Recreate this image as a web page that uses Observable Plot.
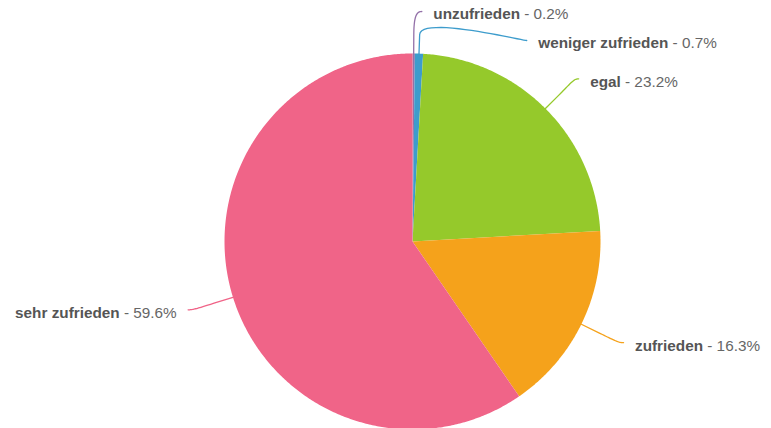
<!DOCTYPE html>
<html><head><meta charset="utf-8">
<script src="https://cdn.jsdelivr.net/npm/d3@7"></script>
<script src="https://cdn.jsdelivr.net/npm/@observablehq/plot@0.6"></script>
<style>html,body{margin:0;padding:0;background:#fff}</style>
</head><body><div id="chart"></div>
<script>
// ---- data ----
const categories = ["unzufrieden", "weniger zufrieden", "egal", "zufrieden", "sehr zufrieden"];
const shares = [0.2, 0.7, 23.2, 16.3, 59.6];
const colors = ["#9370a8", "#3d9ccc", "#95c92b", "#f5a21b", "#f06488"];

// ---- layout ----
const W = 771, H = 428, CX = 412, CY = 241, R = 188;
const px = 1 / R;                 // one pixel in data units
const FONT = "'Liberation Sans', Arial, Helvetica, sans-serif";
const FS = 15.3;
const RY = 230 * px;              // label ellipse, vertical radius
const RX = 235 * px;              // label ellipse, horizontal radius
const RB = 1 + 19 * px;           // connector break radius
const GAP = 11.5 * px;            // connector end -> text
const TEXT_DY = 3 * px;           // text centre sits a little below connector end
const TOP = (CY - 11) * px;       // highest connector end
const SPACING = 29 * px;
const MIN_RUN = 8 * px;

const total = d3.sum(shares);
let acc = 0;
const slices = categories.map((name, i) => {
  const a0 = acc / total * 2 * Math.PI; acc += shares[i];
  const a1 = acc / total * 2 * Math.PI;
  return {name, value: shares[i], a0, a1, mid: (a0 + a1) / 2};
});

// slice polygons (unit circle, angle 0 at top, clockwise)
const polys = [];
for (const s of slices) {
  polys.push({name: s.name, x: 0, y: 0});
  const n = Math.max(2, Math.ceil((s.a1 - s.a0) / (Math.PI / 360)));
  for (let k = 0; k <= n; k++) {
    const a = s.a0 + (s.a1 - s.a0) * k / n;
    polys.push({name: s.name, x: Math.sin(a), y: Math.cos(a)});
  }
}

// label layout with simple collision avoidance per side
for (const side of [1, -1]) {
  const group = slices.filter(s => (Math.sin(s.mid) >= 0 ? 1 : -1) === side)
    .sort((a, b) => Math.cos(b.mid) - Math.cos(a.mid));
  let prev = Infinity;
  for (const s of group) {
    const natural = RY * Math.cos(s.mid);
    let y = Math.min(natural, TOP, prev - SPACING);
    s.side = side;
    s.ey = Math.cos(s.mid); s.ex = Math.sin(s.mid);
    s.by = RB * s.ey; s.bx = RB * s.ex;
    s.ly = y;
    let x = side * RX * Math.sqrt(Math.max(0, 1 - (y / RY) * (y / RY)));
    if (side > 0) x = Math.max(x, s.bx + MIN_RUN); else x = Math.min(x, s.bx - MIN_RUN);
    s.lx = x;
    prev = y;
  }
}

// connectors: label point -> soft curve -> break point -> slice edge
const connectors = [];
for (const s of slices) {
  const P0 = [s.lx, s.ly];
  const P1 = [s.lx - s.side * 5 * px, s.ly];
  const P2 = [2 * s.bx - s.ex, 2 * s.by - s.ey];
  const P3 = [s.bx, s.by];
  const N = 24;
  for (let k = 0; k <= N; k++) {
    const t = k / N, u = 1 - t;
    const b0 = u * u * u, b1 = 3 * u * u * t, b2 = 3 * u * t * t, b3 = t * t * t;
    connectors.push({name: s.name,
      x: b0 * P0[0] + b1 * P1[0] + b2 * P2[0] + b3 * P3[0],
      y: b0 * P0[1] + b1 * P1[1] + b2 * P2[1] + b3 * P3[1]});
  }
  connectors.push({name: s.name, x: s.ex, y: s.ey});
}

// text measurement
const ctx = document.createElement("canvas").getContext("2d");
function measure(t, bold) { ctx.font = (bold ? "bold " : "") + FS + "px " + FONT; return ctx.measureText(t).width; }
const labels = slices.map(s => {
  const valueText = "- " + s.value.toFixed(1) + "%";
  return {
    name: s.name, side: s.side, x: s.lx + s.side * GAP, y: s.ly - TEXT_DY,
    valueText,
    nameW: measure(s.name, true) + measure(" ", false),
    valueW: measure(valueText, false) + measure(" ", false)
  };
});
const right = labels.filter(d => d.side > 0), left = labels.filter(d => d.side < 0);

const chart = Plot.plot({
  width: W, height: H, margin: 0,
  style: {fontFamily: FONT, background: "#fff", overflow: "visible"},
  x: {domain: [-1, 1], range: [CX - R, CX + R], axis: null},
  y: {domain: [-1, 1], range: [CY + R, CY - R], axis: null},
  color: {domain: categories, range: colors},
  marks: [
    Plot.line(polys, {x: "x", y: "y", z: "name", fill: "name", stroke: "none", curve: "linear-closed"}),
    Plot.line(connectors, {x: "x", y: "y", z: "name", stroke: "name", strokeWidth: 1.3, curve: "linear"}),
    // right side
    Plot.text(right, {x: "x", y: "y", text: "name", textAnchor: "start", fontWeight: "bold", fontSize: FS, fill: "#555"}),
    ...right.map(d => Plot.text([d], {x: "x", y: "y", text: "valueText", textAnchor: "start", dx: d.nameW, fontSize: FS, fill: "#666"})),
    // left side
    Plot.text(left, {x: "x", y: "y", text: "valueText", textAnchor: "end", fontSize: FS, fill: "#666"}),
    ...left.map(d => Plot.text([d], {x: "x", y: "y", text: "name", textAnchor: "end", dx: -d.valueW, fontWeight: "bold", fontSize: FS, fill: "#555"}))
  ]
});
document.getElementById("chart").append(chart);
</script>
</body></html>
